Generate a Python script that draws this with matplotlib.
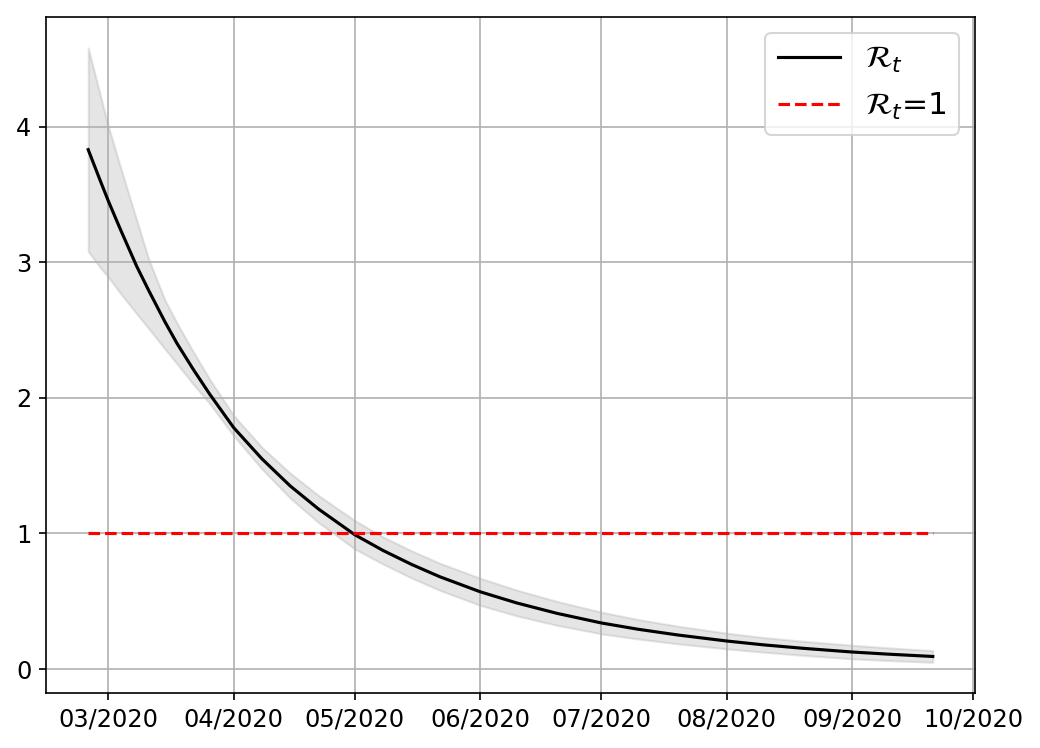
import numpy as np
import pandas as pd
import matplotlib
matplotlib.use("Agg")
import matplotlib.pyplot as plt
import matplotlib.dates as mdates

# values
dates = pd.to_datetime([
    "2020-02-25", "2020-02-28", "2020-03-01", "2020-03-04", "2020-03-08",
    "2020-03-11", "2020-03-15", "2020-03-18", "2020-03-22", "2020-03-26",
    "2020-04-01", "2020-04-08", "2020-04-15", "2020-04-22", "2020-05-01",
    "2020-05-08", "2020-05-15", "2020-05-22", "2020-06-01", "2020-06-10",
    "2020-06-20", "2020-07-01", "2020-07-10", "2020-07-20", "2020-08-01",
    "2020-08-10", "2020-08-20", "2020-09-01", "2020-09-10", "2020-09-21",
])
rt_mean = [3.83, 3.60, 3.45, 3.24, 2.97, 2.79, 2.56, 2.40, 2.21, 2.03,
           1.78, 1.55, 1.35, 1.18, 0.99, 0.874, 0.772, 0.681, 0.570, 0.488,
           0.411, 0.340, 0.294, 0.251, 0.207, 0.179, 0.153, 0.126, 0.110, 0.093]
rt_upper = [4.58, 4.23, 4.00, 3.70, 3.31, 3.02, 2.72, 2.55, 2.34, 2.14,
            1.87, 1.635, 1.445, 1.28, 1.095, 0.974, 0.872, 0.781, 0.67, 0.583,
            0.499, 0.42, 0.366, 0.316, 0.265, 0.233, 0.205, 0.176, 0.157, 0.136]
rt_lower = [3.08, 2.96, 2.89, 2.77, 2.62, 2.51, 2.36, 2.25, 2.10, 1.96,
            1.72, 1.475, 1.26, 1.08, 0.885, 0.774, 0.672, 0.581, 0.47, 0.393,
            0.323, 0.26, 0.222, 0.186, 0.149, 0.125, 0.101, 0.076, 0.063, 0.050]
threshold = [1.0] * len(dates)

fig = plt.figure(figsize=(1040 / 150, 748 / 150), dpi=150)
ax = fig.add_axes([0.0442, 0.0735, 0.8933, 0.9035])

ax.plot(dates, rt_mean, color="black", lw=1.5, label=r"$\mathcal{R}_t$")
ax.fill_between(dates, rt_lower, rt_upper, color="gray", alpha=0.2)
ax.plot(dates, threshold, color="red", ls="--", lw=1.5, label=r"$\mathcal{R}_t$=1")

ax.xaxis.set_major_locator(mdates.MonthLocator())
ax.xaxis.set_major_formatter(mdates.DateFormatter("%m/%Y"))
ax.tick_params(labelsize=11.5)
ax.grid(True)
ax.legend(loc="upper right", fontsize=15)

fig.savefig("out.png", dpi=150)
